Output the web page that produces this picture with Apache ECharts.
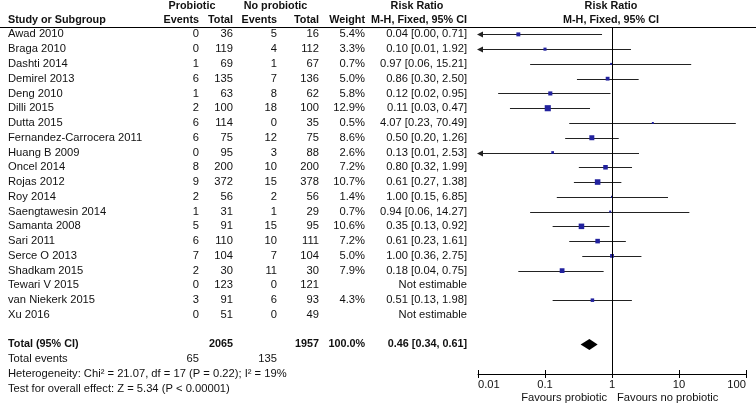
<!DOCTYPE html>
<html>
<head>
<meta charset="utf-8">
<script src="https://cdn.jsdelivr.net/npm/echarts@6/dist/echarts.min.js"></script>
<style>html,body{margin:0;padding:0;background:#fff}#c{width:756px;height:404px}</style>
</head>
<body>
<div id="c"></div>
<script>
const studies = ["Awad 2010","Braga 2010","Dashti 2014","Demirel 2013","Deng 2010","Dilli 2015","Dutta 2015","Fernandez-Carrocera 2011","Huang B 2009","Oncel 2014","Rojas 2012","Roy 2014","Saengtawesin 2014","Samanta 2008","Sari 2011","Serce O 2013","Shadkam 2015","Tewari V 2015","van Niekerk 2015","Xu 2016"];
const probEvents = [0,0,1,6,1,2,6,6,0,8,9,2,1,5,6,7,2,0,3,0];
const probTotal = [36,119,69,135,63,100,114,75,95,200,372,56,31,91,110,104,30,123,91,51];
const ctrlEvents = [5,4,1,7,8,18,0,12,3,10,15,2,1,15,10,7,11,0,6,0];
const ctrlTotal = [16,112,67,136,62,100,35,75,88,200,378,56,29,95,111,104,30,121,93,49];
const weight = [5.4,3.3,0.7,5.0,5.8,12.9,0.5,8.6,2.6,7.2,10.7,1.4,0.7,10.6,7.2,5.0,7.9,null,4.3,null];
const rr = [0.04,0.10,0.97,0.86,0.12,0.11,4.07,0.50,0.13,0.80,0.61,1.00,0.94,0.35,0.61,1.00,0.18,null,0.51,null];
const lo = [0.00,0.01,0.06,0.30,0.02,0.03,0.23,0.20,0.01,0.32,0.27,0.15,0.06,0.13,0.23,0.36,0.04,null,0.13,null];
const hi = [0.71,1.92,15.21,2.50,0.95,0.47,70.49,1.26,2.53,1.99,1.38,6.85,14.27,0.92,1.61,2.75,0.75,null,1.98,null];
const totals = {prob: 2065, ctrl: 1957, weight: "100.0%"};
const pooled = [0.46, 0.34, 0.61];
const totalEvents = [65, 135];
const heterogeneityText = "Heterogeneity: Chi\u00B2 = 21.07, df = 17 (P = 0.22); I\u00B2 = 19%";
const overallText = "Test for overall effect: Z = 5.34 (P < 0.00001)";

const FF = '"Liberation Sans", Arial, sans-serif';
const FONT = '11.2px ' + FF;
const BFONT = 'bold 10.8px ' + FF;
const TXT = '#111';
function txt(x, y, text, align, bold) {
  return {type: 'text', x: x, y: y, style: {text: String(text), font: bold ? BFONT : FONT, fill: TXT, align: align, verticalAlign: 'middle'}};
}
const COL = {name: 8, pe: 199, pt: 233, ce: 277, ct: 319, w: 365, ci: 467};
const f2 = v => v.toFixed(2);

const rowData = studies.map((s, i) => [1, i]);
const ciData = [];
const sqData = [];
rr.forEach((v, i) => {
  if (v != null) {
    ciData.push([v, i, lo[i], hi[i]]);
    sqData.push([v, i, weight[i]]);
  }
});
const TOTAL_ROW = 21;

const chart = echarts.init(document.getElementById('c'), null, {renderer: 'canvas'});
chart.setOption({
  animation: false,
  backgroundColor: '#fff',
  grid: {left: 478, right: 10, top: 27, bottom: 30},
  xAxis: [{
    type: 'log', logBase: 10, min: 0.01, max: 100, gridIndex: 0, position: 'bottom',
    axisLine: {show: true, onZero: false, lineStyle: {color: '#000', width: 1}},
    axisTick: {show: true, inside: false, length: 4, lineStyle: {color: '#000'}},
    splitLine: {show: false},
    axisLabel: {show: true, margin: 5, color: TXT, fontSize: 11.2, fontFamily: FF,
      alignMinLabel: 'left', alignMaxLabel: 'right',
      formatter: v => String(parseFloat(Number(v).toPrecision(3)))}
  }, {
    type: 'log', logBase: 10, min: 0.01, max: 100, gridIndex: 0, position: 'bottom',
    axisLine: {show: false, onZero: false},
    axisTick: {show: true, inside: true, length: 4, lineStyle: {color: '#000'}},
    splitLine: {show: false}, axisLabel: {show: false}
  }],
  yAxis: {type: 'value', inverse: true, min: -0.5, max: 23, show: false},
  graphic: [
    {type: 'line', shape: {x1: 0, y1: 27.5, x2: 756, y2: 27.5}, style: {stroke: '#000', lineWidth: 1}},
    txt(192, 6.5, 'Probiotic', 'center', true),
    txt(275.5, 6.5, 'No probiotic', 'center', true),
    txt(417, 6.5, 'Risk Ratio', 'center', true),
    txt(611, 6.5, 'Risk Ratio', 'center', true),
    txt(COL.name, 20.5, 'Study or Subgroup', 'left', true),
    txt(COL.pe, 20.5, 'Events', 'right', true),
    txt(COL.pt, 20.5, 'Total', 'right', true),
    txt(COL.ce, 20.5, 'Events', 'right', true),
    txt(COL.ct, 20.5, 'Total', 'right', true),
    txt(COL.w, 20.5, 'Weight', 'right', true),
    txt(419, 20.5, 'M-H, Fixed, 95% CI', 'center', true),
    txt(611, 20.5, 'M-H, Fixed, 95% CI', 'center', true),
    txt(607, 397.5, 'Favours probiotic', 'right', false),
    txt(617, 397.5, 'Favours no probiotic', 'left', false)
  ],
  series: [
    {
      type: 'custom', name: 'table', clip: false, silent: true,
      data: rowData,
      renderItem: (params, api) => {
        const i = params.dataIndex;
        const y = api.coord([1, i])[1];
        const w = weight[i] == null ? '' : weight[i].toFixed(1) + '%';
        const ci = rr[i] == null ? 'Not estimable' : f2(rr[i]) + ' [' + f2(lo[i]) + ', ' + f2(hi[i]) + ']';
        return {type: 'group', children: [
          txt(COL.name, y, studies[i], 'left'),
          txt(COL.pe, y, probEvents[i], 'right'),
          txt(COL.pt, y, probTotal[i], 'right'),
          txt(COL.ce, y, ctrlEvents[i], 'right'),
          txt(COL.ct, y, ctrlTotal[i], 'right'),
          txt(COL.w, y, w, 'right'),
          txt(COL.ci, y, ci, 'right')
        ]};
      }
    },
    {
      type: 'custom', name: 'footer', clip: false, silent: true,
      data: [[1, TOTAL_ROW]],
      renderItem: (params, api) => {
        const y0 = api.coord([1, TOTAL_ROW])[1];
        const y1 = api.coord([1, TOTAL_ROW + 1])[1];
        const y2 = api.coord([1, TOTAL_ROW + 2])[1];
        const y3 = api.coord([1, TOTAL_ROW + 3])[1];
        return {type: 'group', children: [
          txt(COL.name, y0, 'Total (95% CI)', 'left', true),
          txt(COL.pt, y0, totals.prob, 'right', true),
          txt(COL.ct, y0, totals.ctrl, 'right', true),
          txt(COL.w, y0, totals.weight, 'right', true),
          txt(COL.ci, y0, f2(pooled[0]) + ' [' + f2(pooled[1]) + ', ' + f2(pooled[2]) + ']', 'right', true),
          txt(COL.name, y1, 'Total events', 'left'),
          txt(COL.pe, y1, totalEvents[0], 'right'),
          txt(COL.ce, y1, totalEvents[1], 'right'),
          txt(COL.name, y2, heterogeneityText, 'left'),
          txt(COL.name, y3, overallText, 'left')
        ]};
      }
    },
    {
      type: 'custom', name: 'ci', clip: false, silent: true, z: 2,
      data: ciData,
      renderItem: (params, api) => {
        const i = api.value(1);
        const l = api.value(2), h = api.value(3);
        const arrow = l <= 0.01;
        const p0 = api.coord([Math.max(l, 0.01), i]);
        const p1 = api.coord([h, i]);
        const y = Math.round(p0[1]) + 0.5;
        const ch = [{type: 'line', shape: {x1: p0[0], y1: y, x2: p1[0], y2: y}, style: {stroke: '#222', lineWidth: 1}}];
        if (arrow) {
          ch.push({type: 'polygon', shape: {points: [[p0[0] - 1, y], [p0[0] + 5, y - 3], [p0[0] + 5, y + 3]]}, style: {fill: '#222'}});
        }
        return {type: 'group', children: ch};
      }
    },
    {
      type: 'scatter', name: 'rr', z: 3, silent: true,
      data: sqData,
      symbol: 'rect',
      symbolSize: v => Math.max(2, Math.sqrt(v[2]) * 1.7),
      itemStyle: {color: '#22229e', opacity: 1}
    },
    {
      type: 'custom', name: 'pooled', clip: false, silent: true, z: 3,
      data: [[pooled[0], TOTAL_ROW, pooled[1], pooled[2]]],
      renderItem: (params, api) => {
        const c = api.coord([api.value(0), api.value(1)]);
        const l = api.coord([api.value(2), api.value(1)]);
        const r = api.coord([api.value(3), api.value(1)]);
        return {type: 'polygon', shape: {points: [[l[0], c[1]], [c[0], c[1] - 5.5], [r[0], c[1]], [c[0], c[1] + 5.5]]}, style: {fill: '#000'}};
      },
      markLine: {
        silent: true, symbol: 'none', label: {show: false},
        lineStyle: {color: '#000', width: 1, type: 'solid'},
        data: [{xAxis: 1}]
      }
    }
  ]
});
</script>
</body>
</html>
